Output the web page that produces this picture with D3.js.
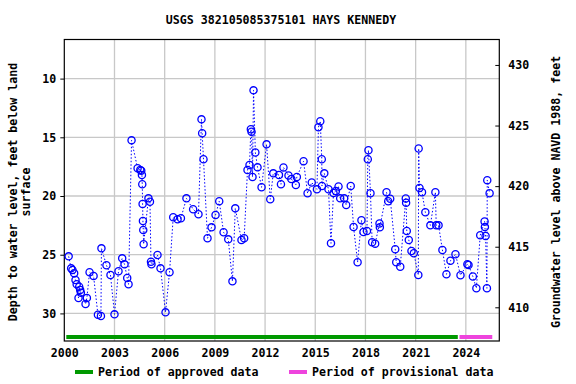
<!DOCTYPE html>
<meta charset="utf-8">
<script src="https://d3js.org/d3.v7.min.js"></script>
<style>
  body { margin: 0; background: #fff; }
  text { font-family: "DejaVu Sans Mono", monospace; font-weight: bold; font-size: 11.6px; fill: #000; }
</style>
<div id="screen"></div>
<script>
  var title = "USGS 382105085375101 HAYS KENNEDY";

  // measurement dates (decimal years) and depth to water, ft below land surface
  var years = [
    2000.26, 2000.41, 2000.49, 2000.59, 2000.67, 2000.74, 2000.85, 2000.89, 2000.95, 2000.99,
    2001.27, 2001.35, 2001.51, 2001.75, 2002.01, 2002.19, 2002.22, 2002.52, 2002.76, 2003.00,
    2003.24, 2003.46, 2003.60, 2003.76, 2003.84, 2004.02, 2004.38, 2004.54, 2004.60, 2004.64,
    2004.66, 2004.68, 2004.70, 2004.72, 2004.74, 2005.03, 2005.12, 2005.18, 2005.21, 2005.57,
    2005.75, 2006.05, 2006.29, 2006.51, 2006.77, 2006.97, 2007.30, 2007.70, 2008.02, 2008.20,
    2008.24, 2008.32, 2008.56, 2008.80, 2009.04, 2009.26, 2009.52, 2009.80, 2010.05, 2010.22,
    2010.59, 2010.75, 2010.95, 2011.07, 2011.15, 2011.19, 2011.25, 2011.31, 2011.42, 2011.55,
    2011.79, 2012.09, 2012.31, 2012.49, 2012.83, 2012.95, 2013.10, 2013.40, 2013.57, 2013.84,
    2013.90, 2014.30, 2014.54, 2014.79, 2015.10, 2015.19, 2015.30, 2015.39, 2015.40, 2015.54,
    2015.79, 2015.94, 2016.09, 2016.23, 2016.39, 2016.49, 2016.73, 2016.85, 2017.12, 2017.29,
    2017.53, 2017.76, 2017.88, 2018.09, 2018.14, 2018.18, 2018.30, 2018.40, 2018.58, 2018.84,
    2018.86, 2019.26, 2019.36, 2019.48, 2019.78, 2019.84, 2020.08, 2020.41, 2020.43, 2020.47,
    2020.59, 2020.75, 2020.89, 2021.16, 2021.18, 2021.23, 2021.38, 2021.58, 2021.88, 2022.18,
    2022.23, 2022.37, 2022.60, 2022.84, 2023.08, 2023.38, 2023.68, 2024.09, 2024.16, 2024.42,
    2024.63, 2024.86, 2025.12, 2025.14, 2025.18, 2025.26, 2025.28, 2025.42
  ];
  var depths = [
    25.14, 26.16, 26.30, 26.58, 27.16, 27.52, 28.69, 27.73, 28.01, 28.24,
    29.20, 28.69, 26.50, 26.81, 30.11, 30.22, 24.46, 25.90, 26.73, 30.08,
    26.41, 25.31, 25.82, 26.99, 27.52, 15.26, 17.64, 17.79, 17.85, 18.21,
    19.00, 20.68, 22.13, 22.90, 24.11, 20.20, 20.49, 25.60, 25.82, 25.03,
    26.16, 29.91, 26.50, 21.81, 21.98, 21.90, 20.20, 21.13, 21.56, 13.47,
    14.66, 16.87, 23.60, 22.67, 21.62, 20.45, 23.09, 23.69, 27.27, 21.05,
    23.75, 23.60, 17.79, 17.36, 14.32, 14.52, 18.38, 11.00, 16.29, 17.56,
    19.26, 15.60, 20.28, 18.07, 18.21, 19.00, 17.57, 18.25, 18.55, 19.06,
    18.38, 17.04, 19.77, 18.85, 19.43, 14.14, 13.63, 16.87, 19.15, 18.07,
    19.43, 24.03, 19.74, 19.57, 19.19, 20.20, 20.20, 20.77, 19.15, 22.64,
    25.64, 22.07, 23.07, 22.98, 16.87, 16.10, 19.77, 23.94, 24.06, 22.34,
    22.67, 19.68, 20.45, 20.23, 24.53, 25.64, 26.03, 20.21, 20.58, 22.98,
    23.75, 24.68, 24.88, 26.73, 15.95, 19.32, 19.68, 21.39, 22.50, 19.68,
    22.50, 22.50, 24.60, 26.67, 25.52, 24.96, 26.75, 25.81, 25.88, 26.86,
    27.86, 23.34, 22.17, 22.64, 23.41, 27.86, 18.65, 19.77
  ];

  var yearTicks = [2000, 2003, 2006, 2009, 2012, 2015, 2018, 2021, 2024];
  var depthTicks = [10, 15, 20, 25, 30];
  var elevTicks = [410, 415, 420, 425, 430];

  // data-approval periods (decimal years)
  var approvedPeriod = [2000.12, 2023.52];
  var provisionalPeriod = [2023.62, 2025.58];

  var W = 576, H = 384;
  var pL = 64.3, pR = 499.3, pT = 39.5, pB = 341;

  var svg = d3.select("#screen").append("svg")
      .attr("width", W).attr("height", H);

  var x = d3.scaleLinear().domain([2000, 2026]).range([pL, pR]);
  var y = d3.scaleLinear().domain([6.67, 32.35]).range([pT, pB]);
  var yR = d3.scaleLinear().domain([432.10, 407.22]).range([pT, pB]);

  // grid
  svg.append("g").selectAll("line").data(yearTicks.slice(1)).join("line")
      .attr("x1", d => x(d)).attr("x2", d => x(d))
      .attr("y1", pT).attr("y2", pB)
      .attr("stroke", "#c8c8c8").attr("stroke-width", 1.3);
  svg.append("g").selectAll("line").data(depthTicks).join("line")
      .attr("x1", pL).attr("x2", pR)
      .attr("y1", d => y(d)).attr("y2", d => y(d))
      .attr("stroke", "#c8c8c8").attr("stroke-width", 1.3);

  // axes
  var axL = svg.append("g").attr("transform", "translate(" + pL + ",0)")
      .call(d3.axisLeft(y).tickValues(depthTicks).tickSize(4).tickPadding(4));
  var axR = svg.append("g").attr("transform", "translate(" + pR + ",0)")
      .call(d3.axisRight(yR).tickValues(elevTicks).tickSize(-4).tickPadding(9));
  var axB = svg.append("g").attr("transform", "translate(0," + pB + ")")
      .call(d3.axisBottom(x).tickValues(yearTicks).tickFormat(d3.format("d")).tickSize(0).tickPadding(8));
  [axL, axR, axB].forEach(function(a) {
    a.select(".domain").remove();
    a.selectAll("text").style("font-size", "11.6px").attr("fill", "#000");
    a.selectAll("line").attr("stroke", "#000");
  });

  // frame
  svg.append("rect").attr("x", pL).attr("y", pT)
      .attr("width", pR - pL).attr("height", pB - pT)
      .attr("fill", "none").attr("stroke", "#000").attr("stroke-width", 1.2);

  // data
  var pts = years.map((t, i) => [t, depths[i]]);
  svg.append("path").datum(pts)
      .attr("d", d3.line().x(d => x(d[0])).y(d => y(d[1])))
      .attr("fill", "none").attr("stroke", "#0000ff")
      .attr("stroke-width", 1).attr("stroke-dasharray", "1.5,2");
  svg.append("g").selectAll("circle").data(pts).join("circle")
      .attr("cx", d => x(d[0])).attr("cy", d => y(d[1])).attr("r", 3.6)
      .attr("fill", "none").attr("stroke", "#0000ff").attr("stroke-width", 1.3);

  // approval bars
  svg.append("line")
      .attr("x1", x(approvedPeriod[0])).attr("x2", x(approvedPeriod[1]))
      .attr("y1", 337).attr("y2", 337)
      .attr("stroke", "#009900").attr("stroke-width", 4);
  svg.append("line")
      .attr("x1", x(provisionalPeriod[0])).attr("x2", x(provisionalPeriod[1]))
      .attr("y1", 337).attr("y2", 337)
      .attr("stroke", "#ee44dd").attr("stroke-width", 4);

  // title and axis titles
  svg.append("text").attr("x", 281).attr("y", 24).attr("text-anchor", "middle").text(title);
  svg.append("text").attr("transform", "translate(17,192) rotate(-90)")
      .attr("text-anchor", "middle").text("Depth to water level, feet below land");
  svg.append("text").attr("transform", "translate(30,192) rotate(-90)")
      .attr("text-anchor", "middle").text("surface");
  svg.append("text").attr("transform", "translate(560,192) rotate(-90)")
      .attr("text-anchor", "middle").text("Groundwater level above NAVD 1988, feet");

  // legend
  var legend = [
    { label: "Period of approved data", color: "#009900", x0: 75 },
    { label: "Period of provisional data", color: "#ee44dd", x0: 289 }
  ];
  var lg = svg.append("g").selectAll("g").data(legend).join("g");
  lg.append("line").attr("x1", d => d.x0).attr("x2", d => d.x0 + 18)
      .attr("y1", 372).attr("y2", 372)
      .attr("stroke", d => d.color).attr("stroke-width", 4);
  lg.append("text").attr("x", d => d.x0 + 23).attr("y", 376).text(d => d.label);
</script>
